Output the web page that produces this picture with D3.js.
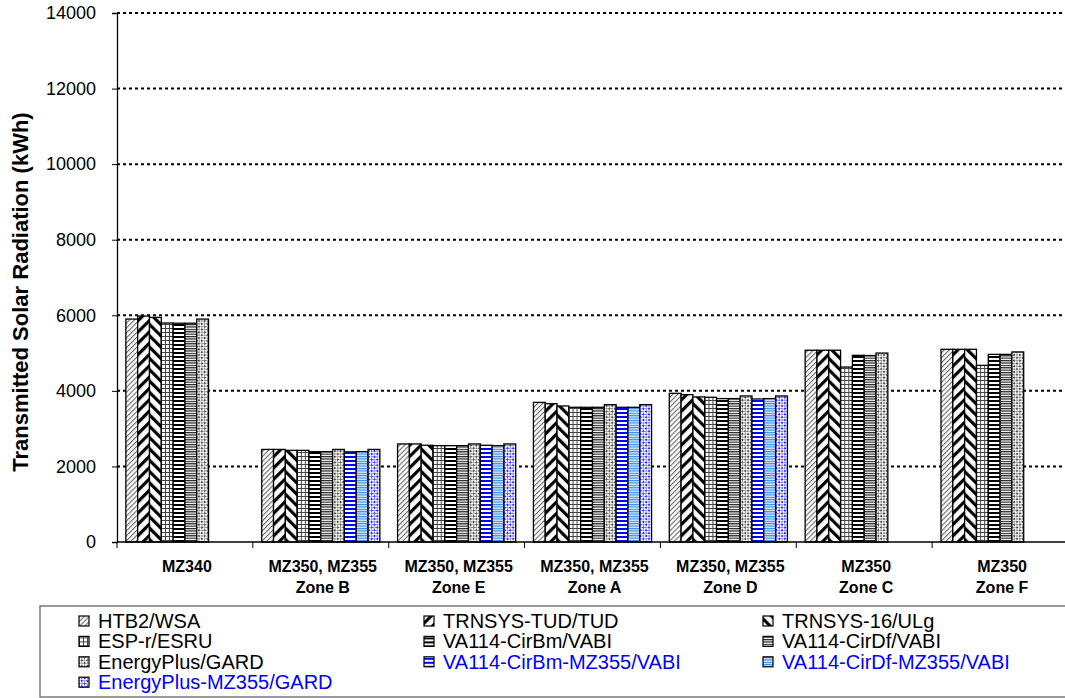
<!DOCTYPE html>
<html>
<head>
<meta charset="utf-8">
<script src="https://cdn.jsdelivr.net/npm/d3@7"></script>
<style>
  body { margin: 0; background: #fff; }
  svg { display: block; font-family: Arial, "Liberation Sans", sans-serif; }
</style>
</head>
<body>
<div id="chart"></div>
<script>
// categories (each label may have two lines)
var categories = [
    ["MZ340"],
    ["MZ350, MZ355", "Zone B"],
    ["MZ350, MZ355", "Zone E"],
    ["MZ350, MZ355", "Zone A"],
    ["MZ350, MZ355", "Zone D"],
    ["MZ350", "Zone C"],
    ["MZ350", "Zone F"]
];

var seriesNames = [
    "HTB2/WSA", "TRNSYS-TUD/TUD", "TRNSYS-16/ULg",
    "ESP-r/ESRU", "VA114-CirBm/VABI", "VA114-CirDf/VABI",
    "EnergyPlus/GARD", "VA114-CirBm-MZ355/VABI", "VA114-CirDf-MZ355/VABI",
    "EnergyPlus-MZ355/GARD"
];

// values in kWh, one per category (null = not simulated)
var htb2       = [5900, 2450, 2595, 3695, 3935, 5075, 5100];
var trnsysTud  = [5980, 2450, 2595, 3660, 3900, 5075, 5100];
var trnsys16   = [5945, 2425, 2560, 3600, 3840, 5075, 5100];
var espr       = [5795, 2425, 2550, 3565, 3830, 4630, 4675];
var cirBm      = [5790, 2390, 2550, 3565, 3795, 4940, 4965];
var cirDf      = [5790, 2390, 2550, 3565, 3795, 4935, 4965];
var energyPlus = [5900, 2450, 2595, 3635, 3865, 5000, 5030];
var cirBmMZ355 = [null, 2385, 2560, 3565, 3785, null, null];
var cirDfMZ355 = [null, 2390, 2550, 3565, 3795, null, null];
var epMZ355    = [null, 2450, 2595, 3635, 3865, null, null];

var seriesValues = [htb2, trnsysTud, trnsys16, espr, cirBm, cirDf, energyPlus, cirBmMZ355, cirDfMZ355, epMZ355];
var yTicks = [0, 2000, 4000, 6000, 8000, 10000, 12000, 14000];
var blueSeries = [7, 8, 9];

var W = 1065, H = 698;
var plot = { left: 117, right: 1068, top: 13, bottom: 542 };

var svg = d3.select("#chart").append("svg")
    .attr("width", W).attr("height", H);

// ---- fill patterns ----
var defs = svg.append("defs");

function pat(id, w, h, transform) {
    var p = defs.append("pattern").attr("id", id)
        .attr("patternUnits", "userSpaceOnUse")
        .attr("width", w).attr("height", h);
    if (transform) p.attr("patternTransform", transform);
    p.append("rect").attr("width", w).attr("height", h).attr("fill", "#fff");
    return p;
}

// 0 light upward diagonal
pat("p0", 3.5, 3.5, "rotate(45)").append("rect").attr("width", 1.1).attr("height", 3.5).attr("fill", "#6a6a6a");
// 1 wide upward diagonal
pat("p1", 8, 8, "rotate(45)").append("rect").attr("width", 3.2).attr("height", 8).attr("fill", "#000");
// 2 wide downward diagonal
pat("p2", 8, 8, "rotate(-45)").append("rect").attr("width", 3.2).attr("height", 8).attr("fill", "#000");
// 3 grid
var p3 = pat("p3", 4, 4);
p3.append("rect").attr("width", 1).attr("height", 4).attr("fill", "#444");
p3.append("rect").attr("width", 4).attr("height", 1).attr("fill", "#444");
// 4 wide horizontal
pat("p4", 4, 4).append("rect").attr("width", 4).attr("height", 2).attr("fill", "#000");
// 5 narrow horizontal
pat("p5", 3, 2.4).append("rect").attr("width", 3).attr("height", 1.2).attr("fill", "#222");
// 6 small checker
var p6 = pat("p6", 4, 4, "rotate(45)");
p6.append("rect").attr("width", 2).attr("height", 2).attr("fill", "#555");
p6.append("rect").attr("x", 2).attr("y", 2).attr("width", 2).attr("height", 2).attr("fill", "#999");
// 7 blue wide horizontal
pat("p7", 4, 4).append("rect").attr("width", 4).attr("height", 2).attr("fill", "#0000ff");
// 8 light blue narrow horizontal
var p8 = pat("p8", 3, 2.4);
p8.select("rect").attr("fill", "#d6e8fb");
p8.append("rect").attr("width", 3).attr("height", 1.1).attr("fill", "#3b8be0");
// 9 blue checker
var p9 = pat("p9", 4, 4, "rotate(45)");
p9.append("rect").attr("width", 2).attr("height", 2).attr("fill", "#3030ff");
p9.append("rect").attr("x", 2).attr("y", 2).attr("width", 2).attr("height", 2).attr("fill", "#8c8cff");

// ---- scales ----
var x0 = d3.scaleBand()
    .domain(d3.range(categories.length))
    .range([plot.left, plot.right])
    .padding(0);

var x1 = d3.scaleBand()
    .domain(d3.range(seriesNames.length))
    .range([0, x0.bandwidth()])
    .paddingInner(0)
    .paddingOuter(0.75);

var y = d3.scaleLinear()
    .domain([0, 14000])
    .range([plot.bottom, plot.top]);

// gridlines
svg.append("g").selectAll("line")
    .data(yTicks.filter(function(d) { return d > 0; }))
    .enter().append("line")
    .attr("x1", plot.left).attr("x2", plot.right)
    .attr("y1", function(d) { return y(d); })
    .attr("y2", function(d) { return y(d); })
    .attr("stroke", "#000")
    .attr("stroke-width", 2)
    .attr("stroke-dasharray", "3,3");

// bars
var groups = svg.append("g").selectAll("g")
    .data(categories)
    .enter().append("g")
    .attr("transform", function(d, i) { return "translate(" + x0(i) + ",0)"; });

groups.selectAll("rect")
    .data(function(d, ci) {
        return seriesValues.map(function(vals, si) { return { s: si, v: vals[ci] }; })
            .filter(function(e) { return e.v != null; });
    })
    .enter().append("rect")
    .attr("x", function(d) { return x1(d.s); })
    .attr("width", x1.bandwidth())
    .attr("y", function(d) { return y(d.v); })
    .attr("height", function(d) { return y(0) - y(d.v); })
    .attr("fill", function(d) { return "url(#p" + d.s + ")"; })
    .attr("stroke", "#000")
    .attr("stroke-width", 1.3);

// y axis
var yAxis = svg.append("g")
    .attr("transform", "translate(" + plot.left + ",0)")
    .call(d3.axisLeft(y).tickValues(yTicks).tickSize(5).tickPadding(16).tickFormat(d3.format("d")));
yAxis.select(".domain").attr("stroke", "#000").attr("stroke-width", 1.3);
yAxis.selectAll(".tick line").attr("stroke", "#000");
yAxis.selectAll("text").attr("font-size", 18).attr("fill", "#000")
    .attr("font-family", "Arial, 'Liberation Sans', sans-serif");

// x axis line + category boundary ticks
svg.append("line")
    .attr("x1", plot.left).attr("x2", plot.right)
    .attr("y1", plot.bottom).attr("y2", plot.bottom)
    .attr("stroke", "#000").attr("stroke-width", 1.3);
svg.append("g").selectAll("line")
    .data(d3.range(categories.length + 1))
    .enter().append("line")
    .attr("x1", function(i) { return plot.left + i * x0.step(); })
    .attr("x2", function(i) { return plot.left + i * x0.step(); })
    .attr("y1", plot.bottom).attr("y2", plot.bottom + 6)
    .attr("stroke", "#000").attr("stroke-width", 1);

// category labels
var catLabels = svg.append("g").selectAll("text")
    .data(categories)
    .enter().append("text")
    .attr("x", function(d, i) { return x0(i) + x0.bandwidth() / 2 + 2; })
    .attr("y", 572)
    .attr("text-anchor", "middle")
    .attr("font-size", 16)
    .attr("font-weight", "bold");
catLabels.selectAll("tspan")
    .data(function(d) { return d; })
    .enter().append("tspan")
    .attr("x", function() { return d3.select(this.parentNode).attr("x"); })
    .attr("dy", function(d, i) { return i === 0 ? 0 : 21; })
    .text(function(d) { return d; });

// y axis title
svg.append("text")
    .attr("transform", "translate(28,292) rotate(-90)")
    .attr("text-anchor", "middle")
    .attr("font-size", 22)
    .attr("font-weight", "bold")
    .text("Transmitted Solar Radiation (kWh)");

// legend
var legend = svg.append("g");
legend.append("rect")
    .attr("x", 40).attr("y", 606)
    .attr("width", 1040).attr("height", 91)
    .attr("fill", "#fff")
    .attr("stroke", "#666").attr("stroke-width", 1.3);

var colX = [79, 424, 763];
var items = legend.selectAll("g.item")
    .data(seriesNames)
    .enter().append("g")
    .attr("class", "item")
    .attr("transform", function(d, i) {
        return "translate(" + colX[i % 3] + "," + (621 + Math.floor(i / 3) * 20.4) + ")";
    });
items.append("rect")
    .attr("x", 0).attr("y", -5)
    .attr("width", 10).attr("height", 10)
    .attr("fill", function(d, i) { return "url(#p" + i + ")"; })
    .attr("stroke", "#000").attr("stroke-width", 1.2);
items.append("text")
    .attr("x", 19).attr("y", 7)
    .attr("font-size", 20)
    .attr("fill", function(d, i) { return blueSeries.indexOf(i) >= 0 ? "#0000ff" : "#000"; })
    .text(function(d) { return d; });
</script>
</body>
</html>
